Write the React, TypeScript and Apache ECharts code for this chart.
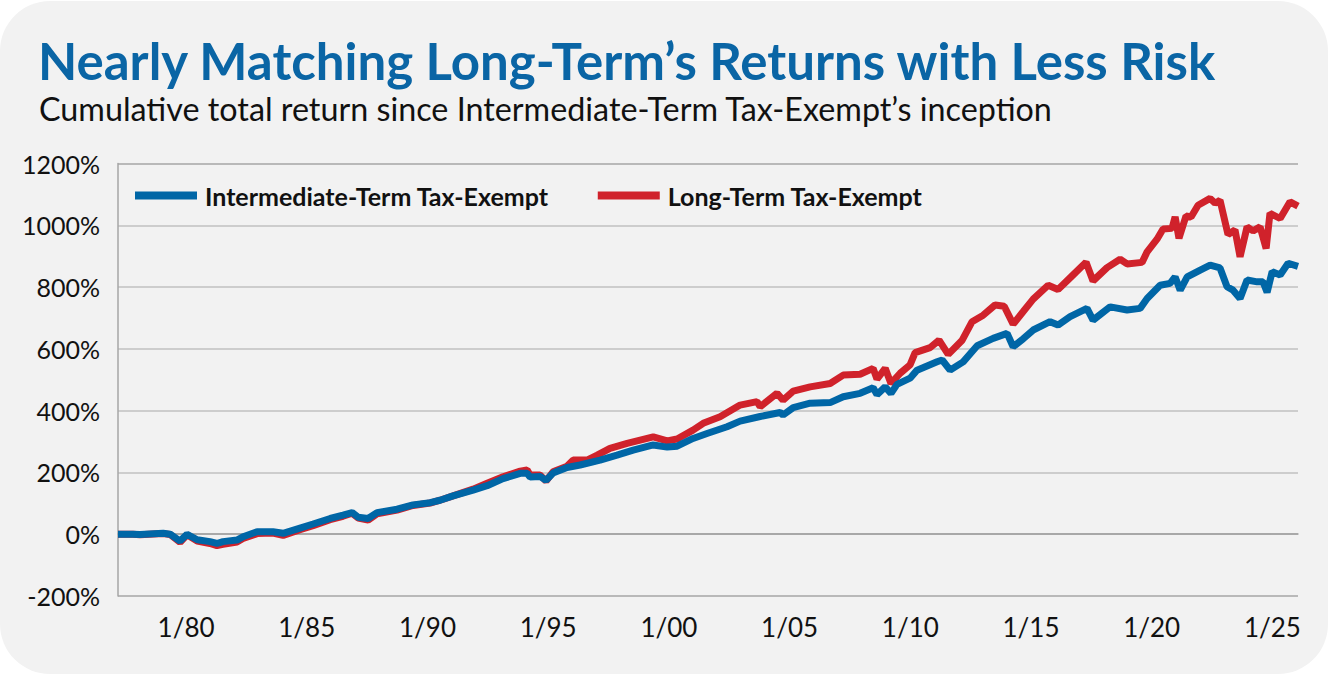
import React, { useEffect, useRef } from "react";
import * as echarts from "echarts";

const title = "Nearly Matching Long-Term’s Returns with Less Risk";
const subtitle = "Cumulative total return since Intermediate-Term Tax-Exempt’s inception";
const seriesNames = ["Intermediate-Term Tax-Exempt", "Long-Term Tax-Exempt"];
const xTickYears = [1980, 1985, 1990, 1995, 2000, 2005, 2010, 2015, 2020, 2025];

// [decimal year, cumulative return %]
const intermediate: [number, number][] = [
  [1977.18, 0], [1977.8, 0], [1978.09, -1], [1979.05, 3], [1979.34, 0], [1979.75, -22], [1980.04, 0],
  [1980.46, -18], [1980.99, -24], [1981.28, -30], [1981.53, -24], [1982.11, -19], [1982.36, -8],
  [1982.94, 8], [1983.6, 8], [1984.02, 3], [1984.72, 20], [1985.26, 33], [1985.97, 51], [1986.5, 62],
  [1986.88, 70], [1987.13, 55], [1987.54, 51], [1987.91, 70], [1988.74, 81], [1989.4, 95], [1990.11, 102],
  [1990.52, 110], [1991.06, 124], [1991.89, 143], [1992.47, 157], [1993.13, 180], [1993.84, 197],
  [1994.13, 197], [1994.25, 185], [1994.66, 187], [1994.91, 174], [1995.2, 198], [1995.78, 216],
  [1996.32, 224], [1997.15, 240], [1997.85, 256], [1998.52, 272], [1999.35, 289], [1999.93, 282],
  [2000.34, 285], [2001.0, 310], [2001.58, 326], [2002.41, 348], [2002.95, 366], [2003.78, 381],
  [2004.61, 394], [2004.73, 386], [2005.15, 410], [2005.85, 424], [2006.68, 426], [2007.22, 445],
  [2007.92, 456], [2008.46, 474], [2008.62, 452], [2008.96, 477], [2009.2, 456], [2009.45, 485],
  [2009.99, 505], [2010.28, 531], [2011.11, 558], [2011.32, 564], [2011.65, 531], [2012.19, 558],
  [2012.77, 610], [2013.43, 634], [2014.01, 650], [2014.26, 607], [2014.67, 632], [2015.09, 661],
  [2015.79, 688], [2016.12, 677], [2016.62, 704], [2017.32, 731], [2017.57, 693], [2018.28, 736],
  [2018.98, 726], [2019.52, 731], [2019.81, 763], [2020.35, 806], [2020.76, 812], [2020.97, 833],
  [2021.18, 790], [2021.47, 833], [2022.01, 855], [2022.42, 871], [2022.83, 862], [2023.12, 801],
  [2023.37, 790], [2023.66, 763], [2023.95, 823], [2024.37, 817], [2024.61, 817], [2024.78, 783],
  [2024.99, 850], [2025.32, 839], [2025.65, 877], [2026.06, 867],
];

const longTerm: [number, number][] = [
  [1977.18, 0], [1977.8, 0], [1978.09, -2], [1979.05, 2], [1979.34, -1], [1979.75, -26], [1980.04, -2],
  [1980.46, -22], [1980.99, -30], [1981.28, -37], [1981.53, -33], [1982.11, -25], [1982.36, -14],
  [1982.94, 2], [1983.6, 4], [1984.02, -4], [1984.72, 15], [1985.26, 28], [1985.97, 47], [1986.5, 58],
  [1986.88, 68], [1987.13, 52], [1987.54, 46], [1987.91, 66], [1988.74, 78], [1989.4, 93], [1990.11, 101],
  [1990.52, 110], [1991.06, 124], [1991.89, 146], [1992.47, 165], [1993.13, 186], [1993.84, 204],
  [1994.13, 208], [1994.25, 192], [1994.66, 192], [1994.91, 172], [1995.2, 202], [1995.78, 220],
  [1996.03, 240], [1996.61, 240], [1997.03, 256], [1997.56, 278], [1998.27, 294], [1999.35, 315],
  [1999.93, 302], [2000.34, 308], [2001.0, 337], [2001.42, 359], [2002.12, 380], [2002.95, 418],
  [2003.65, 429], [2003.78, 413], [2004.48, 456], [2004.73, 434], [2005.15, 463], [2005.85, 477],
  [2006.68, 488], [2007.22, 515], [2007.92, 518], [2008.46, 537], [2008.62, 502], [2008.96, 537],
  [2009.2, 488], [2009.58, 521], [2009.99, 548], [2010.2, 588], [2010.82, 604], [2011.19, 628],
  [2011.57, 582], [2012.15, 628], [2012.56, 688], [2013.02, 709], [2013.51, 742], [2013.89, 738],
  [2014.26, 680], [2014.67, 720], [2015.09, 761], [2015.71, 806], [2016.12, 792], [2016.66, 833],
  [2017.28, 880], [2017.57, 820], [2018.15, 863], [2018.69, 890], [2018.98, 875], [2019.6, 880],
  [2019.81, 914], [2020.22, 955], [2020.47, 988], [2020.84, 990], [2020.97, 1027], [2021.13, 958],
  [2021.42, 1030], [2021.63, 1027], [2021.92, 1065], [2022.42, 1087], [2022.63, 1071], [2022.83, 1081],
  [2023.16, 970], [2023.45, 985], [2023.66, 898], [2023.95, 995], [2024.2, 982], [2024.49, 995],
  [2024.74, 925], [2024.9, 1039], [2025.32, 1022], [2025.73, 1076], [2026.06, 1062],
];

const FONT = "Lato, 'Noto Sans', sans-serif";
const BLUE = "#0066a6";
const RED = "#d0222b";

export default function App() {
  const ref = useRef<HTMLDivElement>(null);

  useEffect(() => {
    document.body.style.margin = "0";
    if (!ref.current) return;
    const chart = echarts.init(ref.current, null, { renderer: "svg" });
    chart.setOption({
      animation: false,
      backgroundColor: "transparent",
      graphic: [
        {
          type: "text",
          x: 38,
          y: 60,
          style: {
            text: title,
            fontFamily: FONT,
            fontWeight: "bold",
            fontSize: 51,
            fill: "#0a65a5",
            verticalAlign: "middle",
          },
        },
        {
          type: "text",
          x: 39,
          y: 108,
          style: {
            text: subtitle,
            fontFamily: FONT,
            fontSize: 32.3,
            fill: "#111111",
            verticalAlign: "middle",
          },
        },
      ],
      legend: {
        data: seriesNames,
        left: 130,
        top: 178,
        icon: "rect",
        itemWidth: 62,
        itemHeight: 8,
        itemGap: 49,
        textStyle: {
          fontFamily: FONT,
          fontWeight: "bold",
          fontSize: 25,
          color: "#111111",
          padding: [0, 0, 0, 3],
        },
      },
      grid: { left: 118, right: 31, top: 163.5, bottom: 80, containLabel: false },
      xAxis: {
        type: "value",
        min: 1977.18,
        max: 2026.06,
        axisLine: { show: true, lineStyle: { color: "#a6a6a6", width: 1.5 } },
        axisTick: { show: false },
        splitLine: { show: false },
        axisLabel: {
          customValues: xTickYears,
          formatter: (v: number) => "1/" + String(Math.round(v)).slice(2),
          fontFamily: FONT,
          fontSize: 26,
          color: "#111111",
          margin: 18,
        },
      },
      yAxis: {
        type: "value",
        min: -200,
        max: 1200,
        interval: 200,
        axisLine: { show: true, lineStyle: { color: "#a6a6a6", width: 1.5 } },
        axisTick: { show: false },
        splitLine: {
          show: true,
          lineStyle: {
            color: ["#a6a6a6", "#9a9a9a", "#c0c0c0", "#c0c0c0", "#c0c0c0", "#c0c0c0", "#c0c0c0", "#a6a6a6"],
            width: 1.6,
          },
        },
        axisLabel: {
          formatter: (v: number) => v + "%",
          fontFamily: FONT,
          fontSize: 25,
          color: "#111111",
          margin: 18,
          padding: [20, 0, 0, 0],
        },
      },
      series: [
        {
          name: seriesNames[1],
          type: "line",
          data: longTerm,
          showSymbol: false,
          color: RED,
          lineStyle: { width: 7, color: RED },
          z: 2,
        },
        {
          name: seriesNames[0],
          type: "line",
          data: intermediate,
          showSymbol: false,
          color: BLUE,
          lineStyle: { width: 7, color: BLUE },
          z: 3,
        },
      ],
    });
    return () => chart.dispose();
  }, []);

  return (
    <div style={{ width: 1329, height: 676, background: "#ffffff", position: "relative" }}>
      <div
        style={{
          position: "absolute",
          left: 0,
          top: 1,
          width: 1328,
          height: 673,
          borderRadius: 50,
          background: "#f2f2f2",
        }}
      />
      <div ref={ref} style={{ position: "absolute", left: 0, top: 0, width: 1329, height: 676 }} />
    </div>
  );
}
